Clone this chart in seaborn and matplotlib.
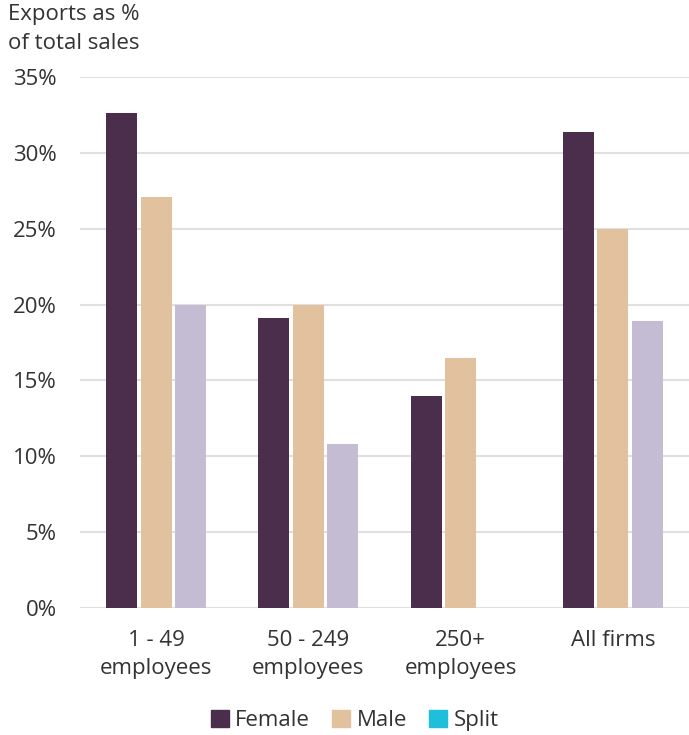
import matplotlib
matplotlib.use("Agg")
import matplotlib.pyplot as plt
import matplotlib.patches as mpatches
import seaborn as sns
import pandas as pd
import numpy as np

categories = ["1 - 49\nemployees", "50 - 249\nemployees", "250+\nemployees", "All firms"]
female = [32.6, 19.1, 14.0, 31.4]
male = [27.1, 20.0, 16.5, 25.0]
split = [20.0, 10.8, np.nan, 18.9]
series = ["Female", "Male", "Split"]
yticks = [0, 5, 10, 15, 20, 25, 30, 35]

bar_colors = ["#4b2e4b", "#e2c29e", "#c4bcd2"]
legend_colors = ["#4b2e4b", "#e2c29e", "#1fbfdb"]

rows = []
for s, vals in zip(series, [female, male, split]):
    for c, v in zip(categories, vals):
        rows.append({"cat": c, "series": s, "value": v})
df = pd.DataFrame(rows)

sns.set_theme(style="white")
plt.rcParams["font.family"] = ["Open Sans", "DejaVu Sans"]
text_color = "#333333"
fs = 16

fig = plt.figure(figsize=(6.89, 7.35), dpi=100)
ax = fig.add_axes([0.116, 0.1728, 0.884, 0.7224])

sns.barplot(data=df, x="cat", y="value", hue="series", order=categories,
            hue_order=series, palette=bar_colors, width=0.68, gap=0.1,
            saturation=1, ax=ax, legend=False, zorder=3, linewidth=0)

ax.set_ylim(0, 35)
ax.set_xlim(-0.5, 3.5)
ax.set_yticks(yticks)
ax.set_yticklabels([f"{t}%" for t in yticks], fontsize=fs, color=text_color)
ax.set_xticks(range(len(categories)))
ax.set_xticklabels(categories, fontsize=fs, color=text_color, linespacing=1.45)
ax.tick_params(axis="both", length=0)
ax.tick_params(axis="y", pad=16.5)
ax.tick_params(axis="x", pad=16)
ax.set_xlabel("")
ax.set_ylabel("")
ax.yaxis.grid(True, color="#e0e0e0", linewidth=1.5, zorder=0)
ax.set_axisbelow(True)
for sp in ax.spines.values():
    sp.set_visible(False)

fig.text(0.011, 0.994, "Exports as %\nof total sales", ha="left", va="top",
         fontsize=fs, color=text_color, linespacing=1.5)

handles = [mpatches.Patch(color=c, label=s) for c, s in zip(legend_colors, series)]
fig.legend(handles=handles, loc="lower center", bbox_to_anchor=(0.515, -0.022),
           ncol=3, frameon=False, fontsize=fs, handlelength=0.8, handleheight=0.8,
           handletextpad=0.3, columnspacing=1.0, labelcolor=text_color)

fig.savefig("out.png", dpi=100)
